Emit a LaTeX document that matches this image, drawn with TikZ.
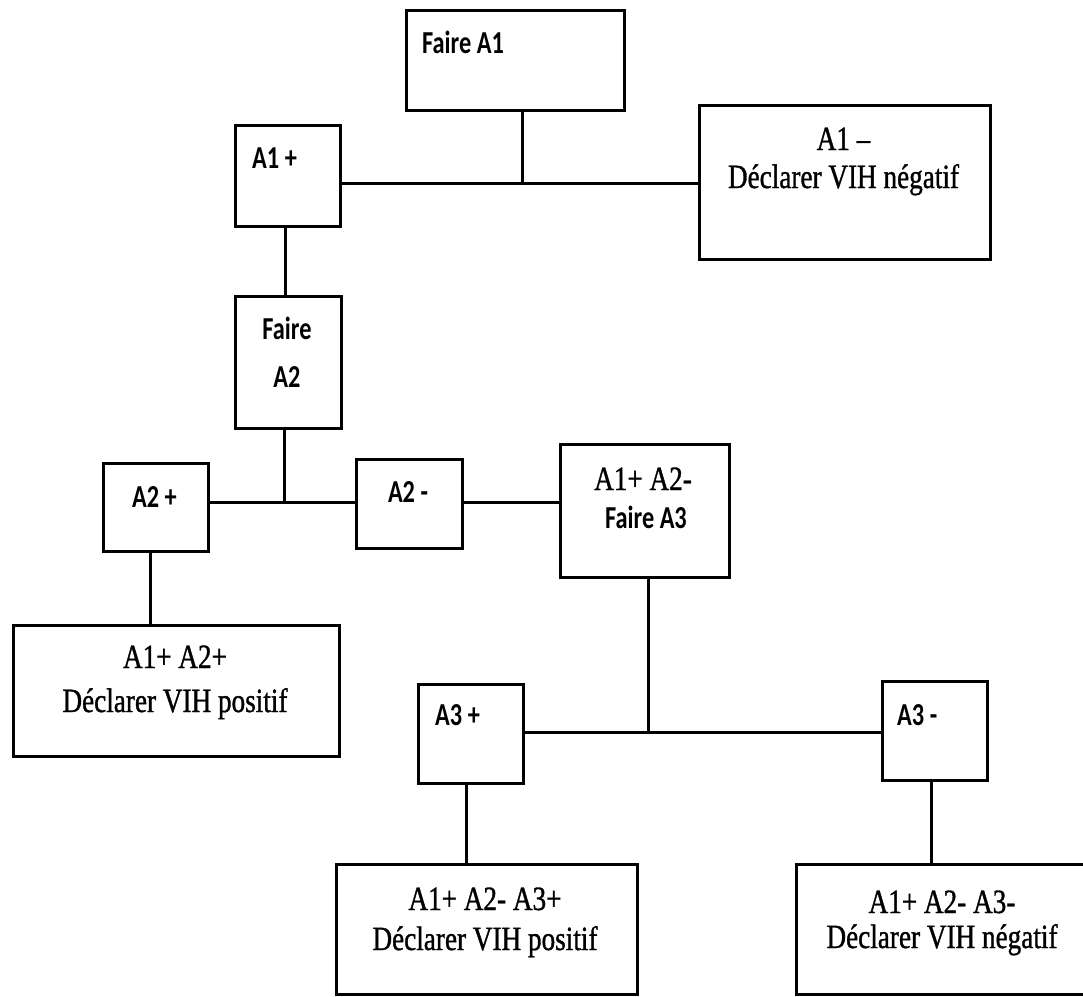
\documentclass[tikz,border=0pt]{standalone}
\usepackage{fontspec}
\setmainfont{Liberation Serif}[FakeStretch=0.8, FakeBold=1]
\newfontfamily\calfont{Carlito}[FakeStretch=0.76]
\begin{document}
\begin{tikzpicture}[x=1pt,y=-1pt,
  box/.style={draw, line width=2.8pt, inner sep=0pt, anchor=north west},
  wire/.style={line width=3pt},
  ser/.style={font=\fontsize{34}{40}\selectfont, inner sep=0pt, anchor=base},
  san/.style={font=\calfont\bfseries\fontsize{32}{40}\selectfont, inner sep=0pt, anchor=base west},
]
\useasboundingbox (0,0) rectangle (1083,996);
\clip (0,0) rectangle (1083,996);
% boxes
\node[box, minimum width=218pt, minimum height=100pt] (fa1) at (405,9) {};
\node[box, minimum width=105pt, minimum height=101pt] (a1p) at (234,124) {};
\node[box, minimum width=291pt, minimum height=154pt] (a1m) at (698,104) {};
\node[box, minimum width=106pt, minimum height=132pt] (fa2) at (234,295) {};
\node[box, minimum width=105pt, minimum height=88pt] (a2p) at (102,462) {};
\node[box, minimum width=106pt, minimum height=89pt] (a2m) at (355,458) {};
\node[box, minimum width=169pt, minimum height=133pt] (fa3) at (559,443) {};
\node[box, minimum width=326pt, minimum height=131pt] (r1) at (12,624) {};
\node[box, minimum width=105pt, minimum height=99pt] (a3p) at (417,683) {};
\node[box, minimum width=105pt, minimum height=99pt] (a3m) at (881,680) {};
\node[box, minimum width=301pt, minimum height=130pt] (r2) at (335,863) {};
\node[box, minimum width=295pt, minimum height=130pt] (r3) at (795,863) {};
% connector helpers
\coordinate (j1) at (522,183);
\coordinate (c2) at (285,0);
\coordinate (j2) at (284,502);
\coordinate (c3) at (150,0);
\coordinate (j3) at (648,732);
\coordinate (c4) at (466,0);
\coordinate (c5) at (931,0);
% connectors
\draw[wire] (fa1.south -| j1) -- (j1);
\draw[wire] (a1p.east |- j1) -- (a1m.west |- j1);
\draw[wire] (a1p.south -| c2) -- (fa2.north -| c2);
\draw[wire] (fa2.south -| j2) -- (j2);
\draw[wire] (a2p.east |- j2) -- (a2m.west |- j2);
\draw[wire] (a2m.east |- j2) -- (fa3.west |- j2);
\draw[wire] (a2p.south -| c3) -- (r1.north -| c3);
\draw[wire] (fa3.south -| j3) -- (j3);
\draw[wire] (a3p.east |- j3) -- (a3m.west |- j3);
\draw[wire] (a3p.south -| c4) -- (r2.north -| c4);
\draw[wire] (a3m.south -| c5) -- (r3.north -| c5);
% texts
\node[san] (t1) at (422,53) {Faire A1};
\node[san] (t2) at (252,168) {A1 +};
\node[ser] (t3) at (843.5,150) {A1 –};
\node[ser] (t4) at (843.5,188) {Déclarer VIH négatif};
\node[san, anchor=base] (t5) at (287,339) {Faire};
\node[san, anchor=base] (t6) at (287,387) {A2};
\node[san, anchor=base] (t7) at (154.5,507) {A2 +};
\node[san, anchor=base] (t8) at (408,502) {A2 -};
\node[ser] (t9) at (643,490) {A1+ A2-};
\node[san, anchor=base] (t10) at (646,528) {Faire A3};
\node[ser] (t11) at (175,668) {A1+ A2+};
\node[ser] (t12) at (175,712) {Déclarer VIH positif};
\node[san] (t13) at (435,725) {A3 +};
\node[san] (t14) at (897,725) {A3 -};
\node[ser] (t15) at (485,910) {A1+ A2- A3+};
\node[ser] (t16) at (485,950) {Déclarer VIH positif};
\node[ser] (t17) at (942,913) {A1+ A2- A3-};
\node[ser] (t18) at (942,948) {Déclarer VIH négatif};
\end{tikzpicture}
\end{document}
